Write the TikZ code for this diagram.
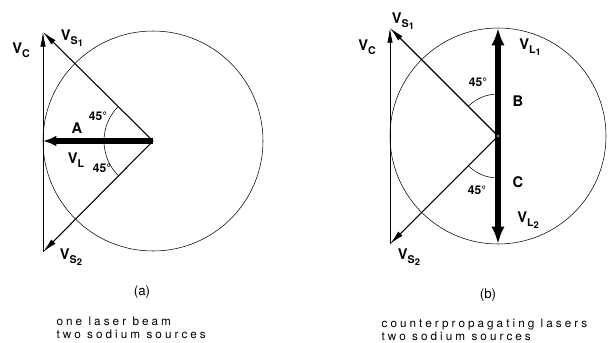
\documentclass[tikz,border=0pt]{standalone}
\usepackage{fontspec}
\setmainfont{TeX Gyre Heros}
\newfontfamily\capfont[LetterSpace=26]{TeX Gyre Heros}
\usetikzlibrary{arrows.meta}

% vector label: letter, subscript, sub-subscript
\newcommand{\vlab}[3]{#1\raisebox{-0.45ex}{\fontsize{8}{8}\selectfont #2\raisebox{-0.35ex}{\fontsize{7}{7}\selectfont #3}}}

\begin{document}
\begin{tikzpicture}[x=0.75pt,y=-0.75pt,
  every node/.style={font=\bfseries\fontsize{11}{13}\selectfont, inner sep=1pt},
  anglab/.style={font=\bfseries\fontsize{9}{11}\selectfont},
  caption/.style={font=\capfont\fontsize{8.8}{10}\selectfont, align=left, anchor=west},
  vec/.style={line width=0.8pt, -{Latex[length=11pt,width=4.5pt]}},
  vcvec/.style={line width=0.5pt, -{Latex[length=11pt,width=4pt]}},
  laser/.style={line width=3.8pt, -{Latex[length=10pt,width=8pt]}},
  biglaser/.style={line width=3.8pt, -{Latex[length=13pt,width=10pt]}},
  circ/.style={line width=0.4pt}]
\useasboundingbox (0,0) rectangle (611,343);

% ---- (a) one laser beam
\coordinate (Oa) at (153,141);
\coordinate (S1a) at (43,32);
\coordinate (S2a) at (43,252);
\coordinate (La) at (43,141);
\draw[circ] (Oa) circle (110);
\draw[vec] (Oa) -- (S1a);
\draw[vec] (Oa) -- (S2a);
\draw[vcvec] (S2a) -- (S1a);
\draw[laser] (Oa) -- (La);
% angles
\draw (Oa) ++(225:49) arc[start angle=225, end angle=180, radius=49];
\draw (Oa) ++(180:49) arc[start angle=180, end angle=135, radius=49];
\node (vca) at (21,51) {\vlab{V}{C}{}};
\node (vs1a) at (72,38) {\vlab{V}{S}{1}};
\node (vs2a) at (71,257) {\vlab{V}{S}{2}};
\node (A) at (77,128) {A};
\node (vla) at (76,161) {\vlab{V}{L}{}};
\node[anglab] (ang1a) at (98,116) {45°};
\node[anglab] (ang2a) at (102,168) {45°};

% ---- (b) counterpropagating lasers
\coordinate (Ob) at (498,136);
\coordinate (S1b) at (390,28);
\coordinate (S2b) at (390,244);
\coordinate (L1b) at (498,28);
\coordinate (L2b) at (498,244);
\draw[circ] (Ob) circle (108);
\draw[vec] (Ob) -- (S1b);
\draw[vec] (Ob) -- (S2b);
\draw[vcvec] (S2b) -- (S1b);
\draw[biglaser] (Ob) -- (L1b);
\draw[biglaser] (Ob) -- (L2b);
\draw[line width=0.6pt, fill=white] (Ob) circle (1.8);
\draw (Ob) ++(225:42) arc[start angle=225, end angle=270, radius=42];
\draw (Ob) ++(90:42) arc[start angle=90, end angle=135, radius=42];
\node (vcb) at (367,48) {\vlab{V}{C}{}};
\node (vs1b) at (403,21) {\vlab{V}{S}{1}};
\node (vs2b) at (409,257) {\vlab{V}{S}{2}};
\node (vl1b) at (530,47) {\vlab{V}{L}{1}};
\node (vl2b) at (528,220) {\vlab{V}{L}{2}};
\node (B) at (518,101) {B};
\node (C) at (518,182) {C};
\node[anglab] (ang1b) at (478,82) {45°};
\node[anglab] (ang2b) at (477,190) {45°};

% ---- captions
\node[font=\fontsize{10}{12}\selectfont] (capa) at (142,292) {(a)};
\node[font=\fontsize{10}{12}\selectfont] (capb) at (488,295) {(b)};
\node[caption] (texta) at (55,328) {one laser beam\\two sodium sources};
\node[caption] (textb) at (380,330) {counterpropagating lasers\\two sodium sources};
\end{tikzpicture}
\end{document}
